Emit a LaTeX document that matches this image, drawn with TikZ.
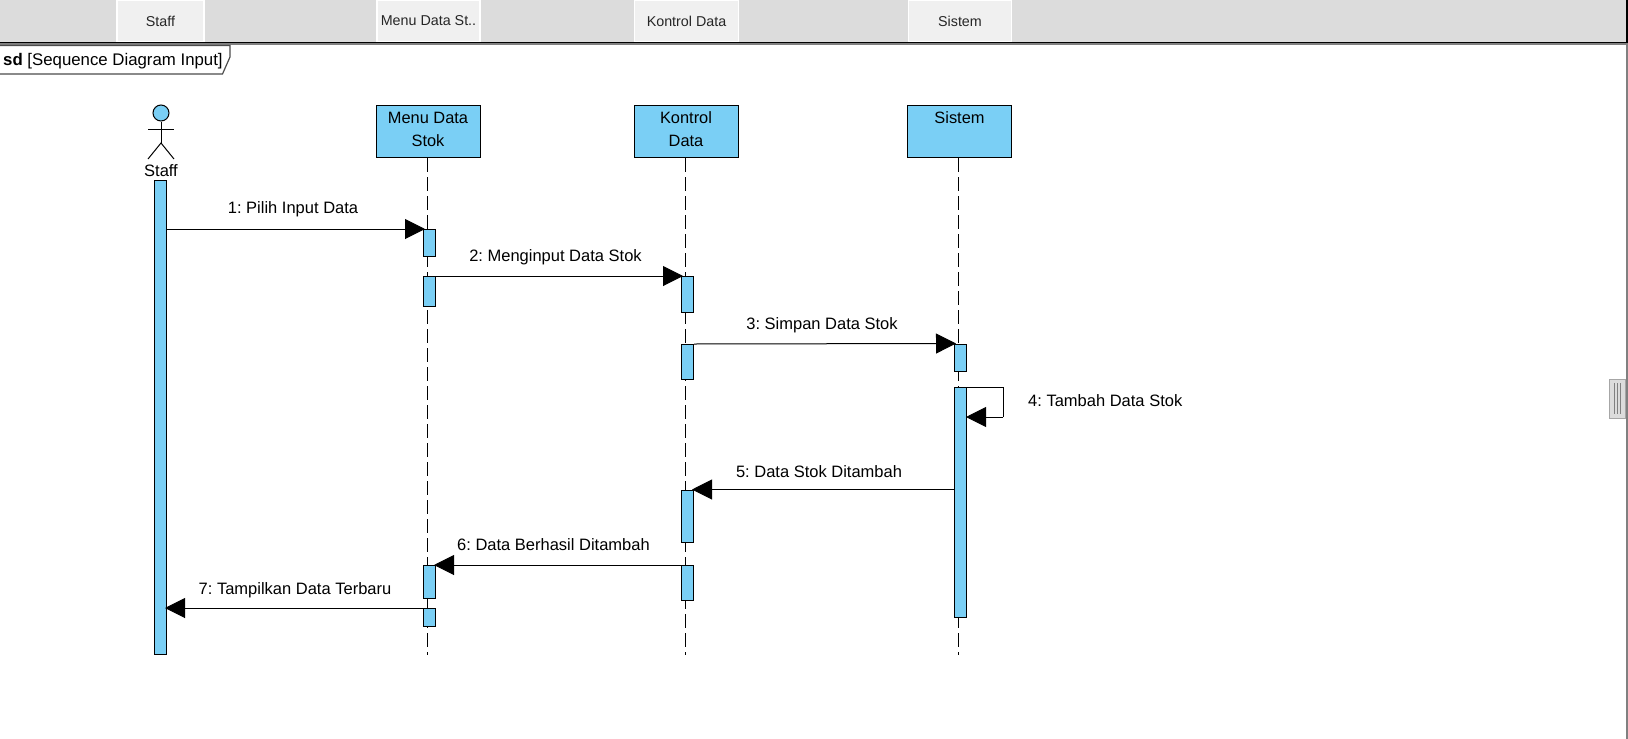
\documentclass[tikz,border=0pt]{standalone}
\usepackage{fontspec}
\setmainfont{Liberation Sans}
\usetikzlibrary{calc,
                arrows.meta
                }
\definecolor{lifeblue}{HTML}{7ACFF5}
\definecolor{headgray}{HTML}{DCDCDC}
\definecolor{tabgray}{HTML}{F0F0F0}
\frenchspacing
\newcommand\boxpad{\rule[-4pt]{0pt}{1pt}}
\tikzset{
    headtab/.style={draw=white, line width=1.2pt, fill=tabgray, minimum height=42pt,
        inner sep=0pt, font=\fontsize{14.3}{16}\selectfont, text=black!85},
    lifebox/.style={draw=black, line width=1pt, fill=lifeblue, minimum height=52pt,
        minimum width=104pt, inner sep=0pt, align=center,
        font=\fontsize{16.4}{23}\selectfont},
    activ/.style={draw=black, line width=1pt, fill=lifeblue, minimum width=12pt,
        inner sep=0pt, anchor=north},
    lifeline/.style={line width=1pt, dash pattern=on 14pt off 5pt},
    msg/.style={line width=1pt, shorten >=-2pt, -{Triangle[length=20pt,width=20pt]}},
    msgtext/.style={inner sep=0pt, font=\fontsize{16.5}{20}\selectfont}
}

\begin{document}
\begin{tikzpicture}[x=1pt,y=-1pt]
    \useasboundingbox (0,0) rectangle (1628,739);

    % Kopfleiste
    \fill[headgray] (0,0) rectangle (1626,42);
    \node[headtab, minimum width=87pt] (tabstaff) at (160.5,21) {Staff};
    \node[headtab, minimum width=103pt] (tabmenu) at (428.5,21) {Menu Data St..};
    \node[headtab, minimum width=104pt] (tabkontrol) at (686.5,21) {Kontrol Data};
    \node[headtab, minimum width=103pt] (tabsistem) at (960,21) {Sistem};
    \fill[black] (0,42) rectangle (1628,43);
    \fill[gray] (0,43) rectangle (1628,44.5);
    \fill[black] (1626,0) rectangle (1628,42);
    \fill[gray] (1626,44) rectangle (1628,739);

    % Rahmentitel
    \draw[line width=1.2pt, draw=black!70, fill=white] (-2,45.5) -- (230,45.5) -- (230,57)
    -- (222.5,74) -- (-2,74);
    \node[inner sep=0pt, anchor=west, font=\fontsize{16.8}{20}\selectfont] (frametitle)
    at (3,61.5) {\textbf{sd} [Sequence Diagram Input]};

    % Griff rechts
    \draw[fill=headgray, draw=gray!70] (1609,379) rectangle (1625,418);
    \foreach \gx in {1614,1617,1620}
        \draw[gray] (\gx,383) -- (\gx,414);

    % Akteur
    \node[circle, draw=black, line width=1pt, fill=lifeblue, minimum size=16pt,
    inner sep=0pt] (head) at (161,113) {};
    \coordinate (shoulderl) at (148,129);
    \coordinate (shoulderr) at (174,129);
    \coordinate (hip) at (161,143);
    \coordinate (footl) at (148,159);
    \coordinate (footr) at (174,159);
    \draw[line width=1pt] (head) -- (hip);
    \draw[line width=1pt] (shoulderl) -- (shoulderr);
    \draw[line width=1pt] (footl) -- (hip) -- (footr);
    \node[msgtext] (staff) at (161,171) {Staff};

    % Lebenslinien
    \node[lifebox] (menu) at (428,131.5) {Menu Data\\Stok\boxpad};
    \node[lifebox] (kontrol) at (686,131.5) {Kontrol\\Data\boxpad};
    \node[lifebox] (sistem) at (959.5,131.5) {Sistem\\\boxpad};
    \coordinate (menuend) at (427.5,655);
    \coordinate (kontrolend) at (685.5,655);
    \coordinate (sistemend) at (958.5,655);
    \draw[lifeline] (menu.south -| menuend) -- (menuend);
    \draw[lifeline] (kontrol.south -| kontrolend) -- (kontrolend);
    \draw[lifeline] (sistem.south -| sistemend) -- (sistemend);

    % Aktivierungen
    \node[activ, minimum height=474pt] (staffact) at (160.5,180) {};
    \node[activ, minimum height=27pt] (menua) at (429.5,229) {};
    \node[activ, minimum height=30pt] (menub) at (429.5,276) {};
    \node[activ, minimum height=33pt] (menuc) at (429.5,565) {};
    \node[activ, minimum height=18pt] (menud) at (429.5,608) {};
    \node[activ, minimum height=36pt] (kontrola) at (687.5,276) {};
    \node[activ, minimum height=35pt] (kontrolb) at (687.5,344) {};
    \node[activ, minimum height=52pt] (kontrolc) at (687.5,489.5) {};
    \node[activ, minimum height=35pt] (kontrold) at (687.5,565) {};
    \node[activ, minimum height=27pt] (sistema) at (960.5,343.5) {};
    \node[activ, minimum height=230pt] (sistemb) at (960.5,387) {};

    % Nachrichten
    \draw[msg] (staffact.east |- menua.north west) -- (menua.north west);
    \draw[msg] (menub.north east) -- (kontrola.north west);
    \draw[msg] (kontrolb.north east) -- (sistema.north west);
    \coordinate (selfr) at (1003,417);
    \draw[line width=.6pt] (sistemb.north east) -| (selfr);
    \draw[msg, shorten >=-1pt] (selfr) -- (sistemb.east |- selfr);
    \draw[msg] (sistemb.west |- kontrolc.north east) -- (kontrolc.north east);
    \draw[msg] (kontrold.north west) -- (menuc.north east);
    \draw[msg] (menud.north west) -- (staffact.east |- menud.north west);

    % Beschriftungen
    \node[msgtext] (msga) at (293,209) {1: Pilih Input Data};
    \node[msgtext] (msgb) at (555.5,257) {2: Menginput Data Stok};
    \node[msgtext] (msgc) at (822,325) {3: Simpan Data Stok};
    \node[msgtext, anchor=west] (msgd) at (1028,401) {4: Tambah Data Stok};
    \node[msgtext] (msge) at (819,472) {5: Data Stok Ditambah};
    \node[msgtext] (msgf) at (553.5,545) {6: Data Berhasil Ditambah};
    \node[msgtext] (msgg) at (295,590) {7: Tampilkan Data Terbaru};
\end{tikzpicture}
\end{document}
